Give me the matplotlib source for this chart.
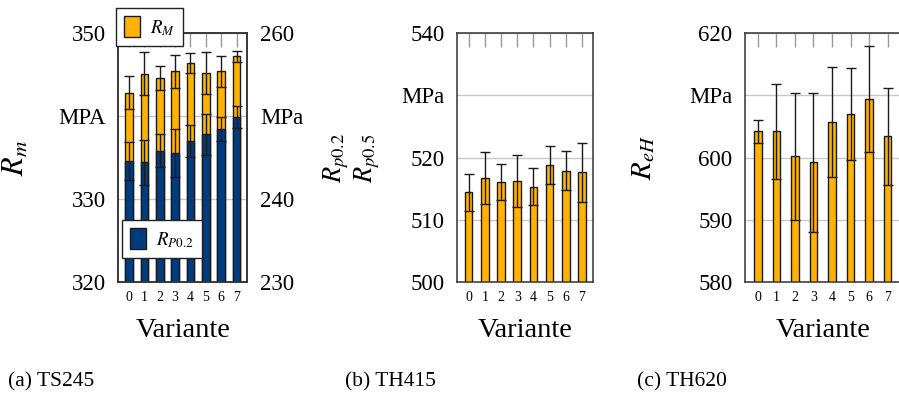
import numpy as np
import matplotlib
matplotlib.use("Agg")
import matplotlib.pyplot as plt
from matplotlib.patches import Patch

plt.rcParams['font.family'] = ['Liberation Serif', 'DejaVu Serif']
plt.rcParams['mathtext.fontset'] = 'stix'

# ---------------- data ----------------
variants = [0, 1, 2, 3, 4, 5, 6, 7]
variant_labels = ['0', '1', '2', '3', '4', '5', '6', '7']

# (a) TS245
rm_vals = [342.8, 345.1, 344.6, 345.4, 346.4, 345.2, 345.4, 347.2]
rm_err = [2.0, 2.6, 1.4, 2.0, 1.2, 2.5, 1.85, 0.7]
rp02_vals = [244.6, 244.4, 245.8, 245.6, 247.0, 247.8, 248.5, 249.9]
rp02_err = [2.3, 2.7, 2.0, 2.9, 1.9, 2.5, 1.45, 1.3]
a_left_ticks = [320, 330, 340, 350]
a_left_labels = ['320', '330', 'MPA', '350']
a_right_ticks = [230, 240, 250, 260]
a_right_labels = ['230', '240', 'MPa', '260']

# (b) TH415
rp_b_vals = [514.4, 516.7, 516.1, 516.2, 515.3, 518.8, 517.9, 517.6]
rp_b_err = [3.0, 4.2, 2.9, 4.2, 3.0, 3.1, 3.1, 4.7]
b_ticks = [500, 510, 520, 530, 540]
b_labels = ['500', '510', '520', 'MPa', '540']

# (c) TH620
reh_vals = [604.2, 604.2, 600.2, 599.2, 605.7, 607.0, 609.4, 603.4]
reh_err = [1.9, 7.6, 10.2, 11.2, 8.8, 7.4, 8.5, 7.8]
c_ticks = [580, 590, 600, 610, 620]
c_labels = ['580', '590', '600', 'MPa', '620']

# ---------------- style ----------------
ORANGE = '#FFB300'
BLUE = '#003C7E'
EDGE = '#1a1a1a'
SPINE = '#333333'
GRID = '#c8c8c8'
TICKFS = 16.5
W, H = 899, 393
DPI = 100
BAR_PX = 7.6
XLIM = (-0.7, 7.7)

fig = plt.figure(figsize=(W / DPI, H / DPI), dpi=DPI)


def px_axes(left, right, top, bottom):
    return fig.add_axes([left / W, 1 - bottom / H, (right - left) / W, (bottom - top) / H])


def style_axes(ax, ticks, labels, ylim, width_px):
    ax.set_xlim(*XLIM)
    ax.set_ylim(*ylim)
    ax.set_yticks(ticks)
    ax.set_yticklabels(labels)
    ax.set_xticks(variants)
    ax.set_xticklabels(variant_labels, fontsize=10)
    ax.tick_params(axis='x', bottom=False, top=True, direction='in', length=10,
                   color='#999999', width=1, pad=7, labelbottom=True)
    ax.tick_params(axis='y', length=0, pad=9, labelsize=TICKFS)
    ax.yaxis.grid(True, color=GRID, lw=1)
    ax.set_axisbelow(True)
    for s in ax.spines.values():
        s.set_color(SPINE)
        s.set_linewidth(1.1)
    ax.set_xlabel('Variante', fontsize=20.5, labelpad=10)
    return BAR_PX / width_px * (XLIM[1] - XLIM[0])


err_kw = dict(ecolor=EDGE, elinewidth=1, capsize=3.5, capthick=1)

# ---- panel (a)
axa = px_axes(118.3, 247.3, 33.3, 281.7)
bw = style_axes(axa, a_left_ticks, a_left_labels, (320, 350), 129)
axa.bar(variants, rm_vals, width=bw, color=ORANGE, edgecolor=EDGE, lw=1,
        yerr=rm_err, error_kw=err_kw, zorder=2)
axa.set_ylabel('$R_m$', fontsize=22)
axa.yaxis.set_label_coords(-0.68, 0.5)

axa2 = axa.twinx()
axa2.set_ylim(230, 260)
axa2.set_yticks(a_right_ticks)
axa2.set_yticklabels(a_right_labels)
axa2.tick_params(axis='y', length=0, pad=9, labelsize=TICKFS)
for s in axa2.spines.values():
    s.set_color(SPINE)
    s.set_linewidth(1.1)
axa2.bar(variants, rp02_vals, width=bw, color=BLUE, edgecolor=EDGE, lw=1,
         yerr=rp02_err, error_kw=err_kw, zorder=2)

leg_kw = dict(fontsize=13.5, frameon=True, fancybox=False, edgecolor='#222222',
              framealpha=1, handlelength=0.85, handleheight=1.35, borderpad=0.45,
              handletextpad=0.5, borderaxespad=0)
l1 = fig.legend([Patch(facecolor=ORANGE, edgecolor=EDGE)], ['$R_M$'], loc='upper left',
                bbox_to_anchor=(116 / W, 1 - 8 / H), **leg_kw)
l1.get_frame().set_linewidth(1)
l2 = fig.legend([Patch(facecolor=BLUE, edgecolor=EDGE)], ['$R_{P0.2}$'], loc='upper left',
                bbox_to_anchor=(122 / W, 1 - 220 / H), **leg_kw)
l2.get_frame().set_linewidth(1)

# ---- panel (b)
axb = px_axes(457.3, 593.3, 33.3, 281.7)
bw = style_axes(axb, b_ticks, b_labels, (500, 540), 136)
axb.bar(variants, rp_b_vals, width=bw, color=ORANGE, edgecolor=EDGE, lw=1,
        yerr=rp_b_err, error_kw=err_kw, zorder=2)
fig.text(336 / W, 1 - 158 / H, '$R_{p0.2}$', rotation=90, ha='center', va='center', fontsize=19)
fig.text(367 / W, 1 - 158 / H, '$R_{p0.5}$', rotation=90, ha='center', va='center', fontsize=19)

# ---- panel (c)
axc = px_axes(745, 900.5, 33.3, 281.7)
bw = style_axes(axc, c_ticks, c_labels, (580, 620), 155.5)
axc.bar(variants, reh_vals, width=bw, color=ORANGE, edgecolor=EDGE, lw=1,
        yerr=reh_err, error_kw=err_kw, zorder=2)
axc.set_ylabel('$R_{eH}$', fontsize=21)
axc.yaxis.set_label_coords((657 - 745) / 155.5, 0.5)

# ---- captions
for xpx, txt in [(8, '(a) TS245'), (345, '(b) TH415'), (637, '(c) TH620')]:
    fig.text(xpx / W, 1 - 382 / H, txt, ha='left', va='center', fontsize=15.5)

fig.savefig('out.png', dpi=DPI)
